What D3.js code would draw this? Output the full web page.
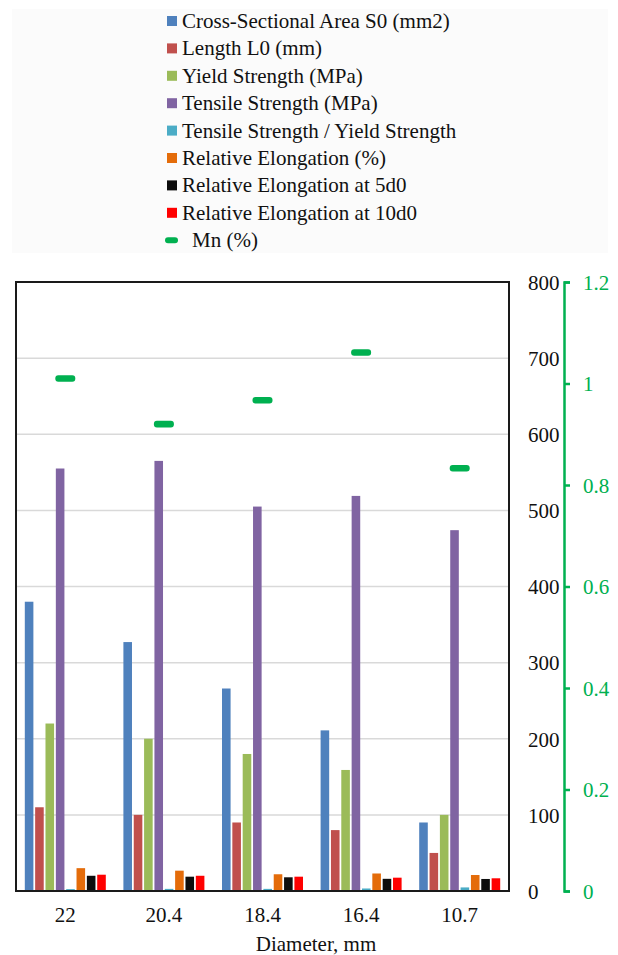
<!DOCTYPE html>
<html><head><meta charset="utf-8">
<script src="https://cdn.jsdelivr.net/npm/d3@7"></script>
</head><body><svg id="c" width="618" height="955"></svg>
<script>
const categories = ["22","20.4","18.4","16.4","10.7"];
const seriesNames = ["Cross-Sectional Area S0 (mm2)","Length L0 (mm)","Yield Strength (MPa)","Tensile Strength (MPa)","Tensile Strength / Yield Strength","Relative Elongation (%)","Relative Elongation at 5d0","Relative Elongation at 10d0"];
const seriesColors = ["#4f81bd","#c0504d","#9bbb59","#8064a2","#4bacc6","#e46c0a","#0d0d0d","#ff0000"];
const area = [380, 327, 266, 211, 90];
const length0 = [110, 100, 90, 80, 50];
const yieldS = [220, 200, 180, 159, 100];
const tensile = [555, 565, 505, 519, 474];
const ratio = [2.5, 2.8, 2.8, 3.3, 4.7];
const elong = [30, 26.7, 22, 23, 21];
const elong5 = [20, 18.8, 18, 16, 15.8];
const elong10 = [21.4, 20, 18.8, 17.5, 16.7];
const mn = [1.01, 0.92, 0.967, 1.061, 0.833];
const leftTicks = [0,100,200,300,400,500,600,700,800];
const rightTicks = [0,0.2,0.4,0.6,0.8,1,1.2];
const mnName = "Mn (%)";
const mnColor = "#00b050";
const axisTitle = "Diameter, mm";

d3.select("body").style("margin","0");
const FONT = "Liberation Serif";
const FS = 21;
const series = [area, length0, yieldS, tensile, ratio, elong, elong5, elong10];
const svg = d3.select("#c");
const L = 16, R = 509, T = 282, B = 891;

function styleText(sel){ return sel.style("font-family",FONT).style("font-size",FS+"px"); }

// legend background
svg.append("rect").attr("x",12).attr("y",9).attr("width",596).attr("height",244).attr("fill","#fbfbfb");
const lg = svg.append("g");
seriesNames.forEach((n,i)=>{
  const yy = 21 + i*27.4;
  lg.append("rect").attr("x",167).attr("y",yy-5).attr("width",10).attr("height",10).attr("fill",seriesColors[i]);
  styleText(lg.append("text").attr("x",182).attr("y",yy+7).attr("fill","#111")).text(n);
});
{
  const yy = 21 + 8*27.4;
  lg.append("rect").attr("x",165).attr("y",yy-3).attr("width",13).attr("height",6).attr("rx",3).attr("fill",mnColor);
  styleText(lg.append("text").attr("x",192).attr("y",yy+7).attr("fill","#111")).text(mnName);
}

const x0 = d3.scaleBand().domain(categories).range([L,R]).paddingInner(0).paddingOuter(0);
const x1 = d3.scaleBand().domain(d3.range(series.length)).range([x0.bandwidth()/2-40.5, x0.bandwidth()/2+40.5]).paddingInner(0.17).paddingOuter(0);
const y = d3.scaleLinear().domain([0,800]).range([B,T]);
const y2 = d3.scaleLinear().domain([0,1.2]).range([B,T]);

// gridlines
svg.append("g").selectAll("line").data(leftTicks.filter(t=>t>0&&t<800)).join("line")
  .attr("x1",L).attr("x2",R).attr("y1",d=>y(d)).attr("y2",d=>y(d))
  .attr("stroke","#d9d9d9").attr("stroke-width",1.5);

// bars
const gg = svg.append("g").selectAll("g").data(categories).join("g")
  .attr("transform",c=>`translate(${x0(c)},0)`);
gg.selectAll("rect").data((c,ci)=>series.map((s,si)=>({si,v:s[ci]}))).join("rect")
  .attr("x",d=>x1(d.si)).attr("width",x1.bandwidth())
  .attr("y",d=>y(d.v)).attr("height",d=>B-y(d.v))
  .attr("fill",d=>seriesColors[d.si]);

// Mn markers
svg.append("g").selectAll("rect").data(categories).join("rect")
  .attr("x",(c)=>x0(c)+x0.bandwidth()/2-10).attr("width",20)
  .attr("y",(c,i)=>y2(mn[i])-3.3).attr("height",6.6).attr("rx",3)
  .attr("fill",mnColor);

// frame
svg.append("rect").attr("x",L).attr("y",T).attr("width",R-L).attr("height",B-T)
  .attr("fill","none").attr("stroke","#1a1a1a").attr("stroke-width",2);

// x labels
const xa = svg.append("g").attr("transform",`translate(0,${B})`).call(d3.axisBottom(x0).tickSize(0).tickPadding(0));
xa.attr("font-family",FONT).attr("font-size",FS);
xa.select(".domain").remove();
styleText(xa.selectAll("text")).attr("fill","#111").attr("dy",null).attr("y",31);

styleText(svg.append("text").attr("x",316).attr("y",951).attr("text-anchor","middle").attr("fill","#111")).text(axisTitle);

// primary value axis drawn on the right
const ya = svg.append("g").attr("transform",`translate(528,0)`).call(d3.axisRight(y).tickValues(leftTicks).tickSize(0).tickPadding(0));
ya.attr("font-family",FONT).attr("font-size",FS);
ya.select(".domain").remove();
styleText(ya.selectAll("text")).attr("fill","#111").attr("text-anchor","start").attr("dy","0.35em");

// green Mn axis
const ga = svg.append("g").attr("transform",`translate(564,0)`).call(d3.axisRight(y2).tickValues(rightTicks).tickSize(6).tickPadding(13).tickSizeOuter(6).tickFormat(d3.format("")));
ga.attr("font-family",FONT).attr("font-size",FS);
ga.select(".domain").attr("stroke",mnColor).attr("stroke-width",2.5);
ga.selectAll(".tick line").attr("stroke",mnColor).attr("stroke-width",2.5);
styleText(ga.selectAll("text")).attr("fill",mnColor).attr("dy","0.35em");
</script></body></html>
